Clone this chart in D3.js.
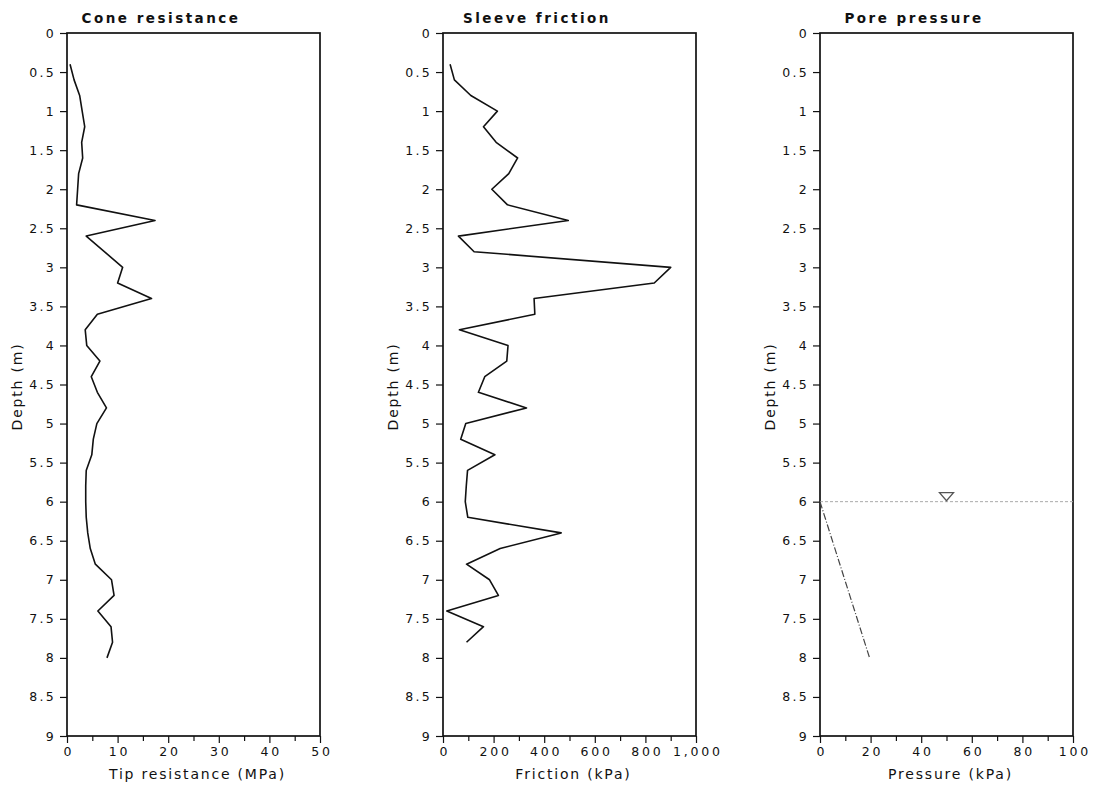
<!DOCTYPE html>
<html><head><meta charset="utf-8">
<script src="https://cdn.jsdelivr.net/npm/d3@7"></script>
<style>
body{margin:0;background:#fff;}
svg{display:block;}
text{font-family:"DejaVu Sans",Verdana,sans-serif;fill:#111;}
</style></head>
<body><svg id="c" width="1100" height="791"></svg>
<script>
// ---------- data ----------
const depthTicks = [0,0.5,1,1.5,2,2.5,3,3.5,4,4.5,5,5.5,6,6.5,7,7.5,8,8.5,9];

const coneDepth = [0.4,0.6,0.8,1.0,1.2,1.4,1.6,1.8,2.0,2.2,2.4,2.6,3.0,3.2,3.4,3.6,3.8,4.0,4.2,4.4,4.6,4.8,5.0,5.2,5.4,5.6,5.8,6.0,6.2,6.4,6.6,6.8,7.0,7.2,7.4,7.6,7.8,8.0];
const coneTip   = [0.6,1.4,2.5,3.0,3.5,2.9,3.1,2.3,2.1,1.9,17.4,3.8,11.0,10.0,16.7,6.0,3.6,3.9,6.5,4.8,6.0,7.8,5.9,5.2,4.9,3.8,3.7,3.7,3.8,4.1,4.6,5.6,8.8,9.3,6.1,8.7,9.0,7.9];
const coneTicks = [0,10,20,30,40,50];
const coneMinor = [5,15,25,35,45];

const frictionDepth = [0.4,0.6,0.8,1.0,1.2,1.4,1.6,1.8,2.0,2.2,2.4,2.6,2.8,3.0,3.2,3.4,3.6,3.8,4.0,4.2,4.4,4.6,4.8,5.0,5.2,5.4,5.6,5.8,6.0,6.2,6.4,6.6,6.8,7.0,7.2,7.4,7.6,7.8];
const frictionValue = [28,45,110,215,160,210,295,260,193,255,495,61,123,900,835,360,363,65,257,252,165,140,330,90,70,205,97,92,88,98,467,226,93,184,219,15,160,93];
const frictionTicks = [0,200,400,600,800,1000];
const frictionMinor = [100,300,500,700,900];

const poreDepth = [6,8];
const porePressure = [0,19.6];
const waterTableDepth = 6;
const waterMarkerPressure = 50;
const poreTicks = [0,20,40,60,80,100];
const poreMinor = [10,30,50,70,90];

const titles = ["Cone resistance","Sleeve friction","Pore pressure"];
const xLabels = ["Tip resistance (MPa)","Friction (kPa)","Pressure (kPa)"];

// ---------- layout ----------
const svg = d3.select("#c");
const plotTop = 33, plotBottom = 736, pw = 253;
const lefts = [67, 443, 820];

const y = d3.scaleLinear().domain([0,9]).range([plotTop,plotBottom]);

function panel(i, xmax, majors, minors, fmt){
  const L = lefts[i];
  const x = d3.scaleLinear().domain([0,xmax]).range([L, L+pw]);
  const g = svg.append("g");
  g.append("rect").attr("x",L).attr("y",plotTop).attr("width",pw).attr("height",plotBottom-plotTop)
    .attr("fill","none").attr("stroke","#111").attr("stroke-width",1.7);
  const ya = g.append("g").attr("transform",`translate(${L},0)`)
    .call(d3.axisLeft(y).tickValues(depthTicks).tickSize(7).tickPadding(4).tickFormat(d3.format("")));
  ya.select(".domain").remove();
  ya.selectAll("line").attr("stroke","#111").attr("stroke-width",1.2);
  ya.selectAll("text").style("font-size","12.5px").style("letter-spacing","2.3px").attr("fill","#111");
  const xa = g.append("g").attr("transform",`translate(0,${plotBottom})`)
    .call(d3.axisBottom(x).tickValues(majors).tickSize(7).tickPadding(4).tickFormat(fmt));
  xa.select(".domain").remove();
  xa.selectAll("line").attr("stroke","#111").attr("stroke-width",1.2);
  xa.selectAll("text").style("font-size","12.5px").style("letter-spacing","2.8px").attr("fill","#111")
    .attr("dx","1.4px");
  const xm = g.append("g").attr("transform",`translate(0,${plotBottom})`)
    .call(d3.axisBottom(x).tickValues(minors).tickSize(5).tickFormat(""));
  xm.select(".domain").remove();
  xm.selectAll("line").attr("stroke","#111").attr("stroke-width",1.2);
  g.append("text").attr("x",L+94).attr("y",23).attr("text-anchor","middle")
    .style("font-size","13.5px").style("font-weight","bold").style("letter-spacing","2.5px")
    .text(titles[i]);
  g.append("text").attr("x",L+pw/2+4).attr("y",779).attr("text-anchor","middle")
    .style("font-size","14px").style("letter-spacing","1.8px").text(xLabels[i]);
  g.append("text").attr("transform",`translate(${L-45},${y(4.5)+2}) rotate(-90)`)
    .attr("text-anchor","middle").style("font-size","14px").style("letter-spacing","1.8px")
    .text("Depth (m)");
  return {g,x};
}

const p1 = panel(0, 50, coneTicks, coneMinor, d3.format("d"));
p1.g.append("path").datum(coneDepth.map((d,k)=>[coneTip[k],d]))
  .attr("fill","none").attr("stroke","#111").attr("stroke-width",1.6).attr("stroke-linejoin","round")
  .attr("d", d3.line().x(d=>p1.x(d[0])).y(d=>y(d[1])));

const p2 = panel(1, 1000, frictionTicks, frictionMinor, d3.format(","));
p2.g.append("path").datum(frictionDepth.map((d,k)=>[frictionValue[k],d]))
  .attr("fill","none").attr("stroke","#111").attr("stroke-width",1.6).attr("stroke-linejoin","round")
  .attr("d", d3.line().x(d=>p2.x(d[0])).y(d=>y(d[1])));

const p3 = panel(2, 100, poreTicks, poreMinor, d3.format("d"));
p3.g.append("line").attr("x1",p3.x(0)).attr("x2",p3.x(100))
  .attr("y1",y(waterTableDepth)).attr("y2",y(waterTableDepth))
  .attr("stroke","#aaa").attr("stroke-width",1).attr("stroke-dasharray","3,2");
const mx = p3.x(waterMarkerPressure), my = y(waterTableDepth);
p3.g.append("path").attr("d",`M${mx-7},${my-9} L${mx+7},${my-9} L${mx},${my-1} Z`)
  .attr("fill","none").attr("stroke","#555").attr("stroke-width",1.3);
p3.g.append("path").datum(poreDepth.map((d,k)=>[porePressure[k],d]))
  .attr("fill","none").attr("stroke","#444").attr("stroke-width",1.2).attr("stroke-dasharray","7,2,1,2")
  .attr("d", d3.line().x(d=>p3.x(d[0])).y(d=>y(d[1])));
</script></body></html>
